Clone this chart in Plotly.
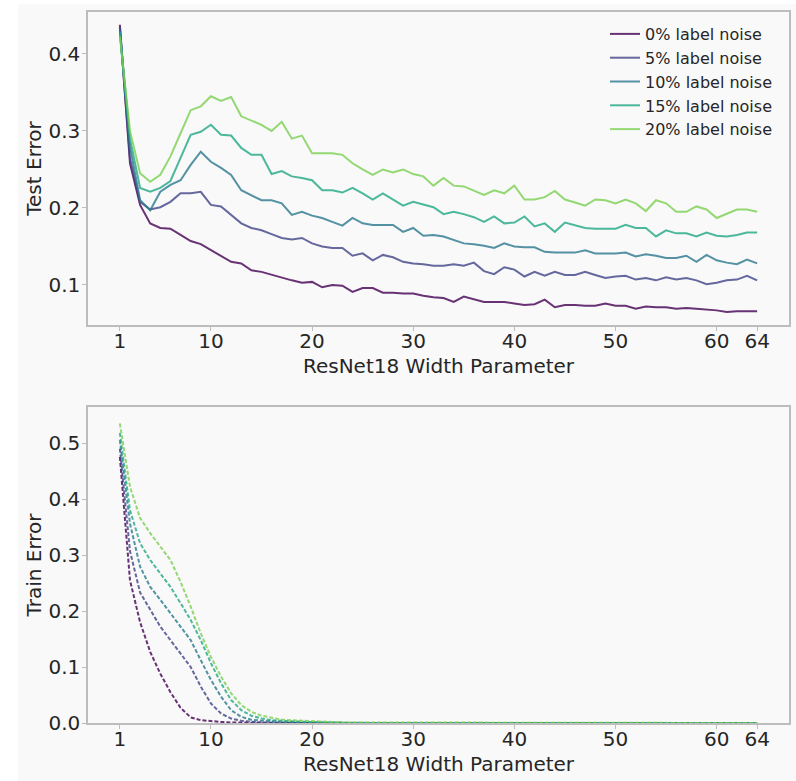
import plotly.graph_objects as go

widths = list(range(1, 65))
x_tick_vals = [1, 10, 20, 30, 40, 50, 60, 64]
test_y_ticks = [0.1, 0.2, 0.3, 0.4]
train_y_ticks = [0.0, 0.1, 0.2, 0.3, 0.4, 0.5]
noise_labels = ["0% label noise", "5% label noise", "10% label noise", "15% label noise", "20% label noise"]

test_0 = [0.438, 0.258, 0.204, 0.180, 0.174, 0.173, 0.165, 0.157, 0.153, 0.145,
          0.138, 0.130, 0.128, 0.119, 0.117, 0.113, 0.110, 0.106, 0.103, 0.104,
          0.097, 0.100, 0.099, 0.091, 0.096, 0.096, 0.090, 0.090, 0.089, 0.089,
          0.086, 0.084, 0.083, 0.078, 0.085, 0.081, 0.078, 0.078, 0.078, 0.076,
          0.074, 0.075, 0.081, 0.071, 0.074, 0.074, 0.073, 0.073, 0.076, 0.073,
          0.073, 0.069, 0.072, 0.071, 0.071, 0.069, 0.070, 0.069, 0.068, 0.067,
          0.065, 0.066, 0.066, 0.066]
test_5 = [0.435, 0.265, 0.208, 0.198, 0.201, 0.208, 0.219, 0.219, 0.221, 0.204,
          0.202, 0.191, 0.180, 0.174, 0.171, 0.166, 0.161, 0.159, 0.161, 0.154,
          0.150, 0.148, 0.148, 0.138, 0.141, 0.132, 0.139, 0.136, 0.130, 0.128,
          0.127, 0.125, 0.125, 0.127, 0.125, 0.129, 0.118, 0.114, 0.123, 0.120,
          0.111, 0.117, 0.112, 0.117, 0.113, 0.113, 0.117, 0.113, 0.109, 0.111,
          0.112, 0.107, 0.109, 0.106, 0.110, 0.107, 0.109, 0.106, 0.101, 0.103,
          0.106, 0.107, 0.112, 0.106]
test_10 = [0.430, 0.280, 0.210, 0.197, 0.221, 0.230, 0.236, 0.256, 0.273, 0.260,
           0.252, 0.243, 0.223, 0.217, 0.210, 0.210, 0.206, 0.191, 0.195, 0.190,
           0.187, 0.182, 0.177, 0.187, 0.180, 0.178, 0.178, 0.178, 0.169, 0.174,
           0.164, 0.165, 0.163, 0.159, 0.154, 0.153, 0.151, 0.148, 0.154, 0.150,
           0.149, 0.149, 0.143, 0.142, 0.142, 0.142, 0.145, 0.141, 0.141, 0.141,
           0.142, 0.137, 0.140, 0.138, 0.135, 0.135, 0.138, 0.130, 0.139, 0.132,
           0.129, 0.127, 0.133, 0.128]
test_15 = [0.428, 0.290, 0.226, 0.221, 0.226, 0.235, 0.265, 0.295, 0.299, 0.308,
           0.295, 0.294, 0.278, 0.269, 0.269, 0.244, 0.248, 0.241, 0.239, 0.236,
           0.223, 0.223, 0.220, 0.226, 0.219, 0.211, 0.219, 0.211, 0.203, 0.208,
           0.204, 0.201, 0.192, 0.195, 0.192, 0.188, 0.182, 0.189, 0.180, 0.181,
           0.189, 0.176, 0.180, 0.169, 0.181, 0.177, 0.174, 0.173, 0.173, 0.173,
           0.178, 0.174, 0.174, 0.163, 0.171, 0.167, 0.167, 0.163, 0.168, 0.164,
           0.163, 0.165, 0.168, 0.168]
test_20 = [0.423, 0.300, 0.245, 0.234, 0.243, 0.267, 0.297, 0.327, 0.332, 0.345,
           0.339, 0.344, 0.319, 0.314, 0.308, 0.300, 0.312, 0.290, 0.294, 0.271,
           0.271, 0.271, 0.269, 0.258, 0.250, 0.243, 0.250, 0.246, 0.250, 0.244,
           0.241, 0.229, 0.239, 0.229, 0.228, 0.223, 0.217, 0.223, 0.219, 0.229,
           0.211, 0.211, 0.214, 0.222, 0.211, 0.207, 0.203, 0.211, 0.210, 0.206,
           0.211, 0.206, 0.196, 0.210, 0.206, 0.195, 0.195, 0.202, 0.198, 0.187,
           0.192, 0.198, 0.198, 0.195]

train_0 = [0.475, 0.255, 0.180, 0.127, 0.088, 0.055, 0.027, 0.010, 0.005, 0.003,
           0.002, 0.001, 0.0005, 0.0, 0.0, 0.0, 0.0, 0.0, 0.0, 0.0,
           0.0, 0.0, 0.0, 0.0, 0.0, 0.0, 0.0, 0.0, 0.0, 0.0,
           0.0, 0.0, 0.0, 0.0, 0.0, 0.0, 0.0, 0.0, 0.0, 0.0,
           0.0, 0.0, 0.0, 0.0, 0.0, 0.0, 0.0, 0.0, 0.0, 0.0,
           0.0, 0.0, 0.0, 0.0, 0.0, 0.0, 0.0, 0.0, 0.0, 0.0,
           0.0, 0.0, 0.0, 0.0]
train_5 = [0.490, 0.307, 0.233, 0.202, 0.172, 0.148, 0.124, 0.100, 0.065, 0.035,
           0.017, 0.008, 0.004, 0.002, 0.001, 0.001, 0.0005, 0.0, 0.0, 0.0,
           0.0, 0.0, 0.0, 0.0, 0.0, 0.0, 0.0, 0.0, 0.0, 0.0,
           0.0, 0.0, 0.0, 0.0, 0.0, 0.0, 0.0, 0.0, 0.0, 0.0,
           0.0, 0.0, 0.0, 0.0, 0.0, 0.0, 0.0, 0.0, 0.0, 0.0,
           0.0, 0.0, 0.0, 0.0, 0.0, 0.0, 0.0, 0.0, 0.0, 0.0,
           0.0, 0.0, 0.0, 0.0]
train_10 = [0.505, 0.356, 0.279, 0.243, 0.220, 0.196, 0.172, 0.148, 0.112, 0.077,
            0.047, 0.023, 0.011, 0.006, 0.004, 0.003, 0.002, 0.0015, 0.001, 0.001,
            0.0005, 0.0005, 0.0, 0.0, 0.0, 0.0, 0.0, 0.0, 0.0, 0.0,
            0.0, 0.0, 0.0, 0.0, 0.0, 0.0, 0.0, 0.0, 0.0, 0.0,
            0.0, 0.0, 0.0, 0.0, 0.0, 0.0, 0.0, 0.0, 0.0, 0.0,
            0.0, 0.0, 0.0, 0.0, 0.0, 0.0, 0.0, 0.0, 0.0, 0.0,
            0.0, 0.0, 0.0, 0.0]
train_15 = [0.518, 0.380, 0.321, 0.291, 0.267, 0.243, 0.214, 0.184, 0.148, 0.107,
            0.071, 0.041, 0.023, 0.013, 0.008, 0.005, 0.004, 0.003, 0.002, 0.002,
            0.001, 0.001, 0.0005, 0.0005, 0.0, 0.0, 0.0, 0.0, 0.0, 0.0,
            0.0, 0.0, 0.0, 0.0, 0.0, 0.0, 0.0, 0.0, 0.0, 0.0,
            0.0, 0.0, 0.0, 0.0, 0.0, 0.0, 0.0, 0.0, 0.0, 0.0,
            0.0, 0.0, 0.0, 0.0, 0.0, 0.0, 0.0, 0.0, 0.0, 0.0,
            0.0, 0.0, 0.0, 0.0]
train_20 = [0.535, 0.422, 0.366, 0.339, 0.315, 0.291, 0.252, 0.208, 0.160, 0.118,
            0.083, 0.053, 0.032, 0.020, 0.013, 0.009, 0.006, 0.005, 0.004, 0.003,
            0.002, 0.002, 0.001, 0.001, 0.001, 0.0005, 0.0005, 0.0, 0.0, 0.0,
            0.0, 0.0, 0.0, 0.0, 0.0, 0.0, 0.0, 0.0, 0.0, 0.0,
            0.0, 0.0, 0.0, 0.0, 0.0, 0.0, 0.0, 0.0, 0.0, 0.0,
            0.0, 0.0, 0.0, 0.0, 0.0, 0.0, 0.0, 0.0, 0.0, 0.0,
            0.0, 0.0, 0.0, 0.0]

colors = ["#440154", "#414487", "#2a788e", "#22a884", "#7ad151"]
test_series = [test_0, test_5, test_10, test_15, test_20]
train_series = [train_0, train_5, train_10, train_15, train_20]

W, H = 796, 781
FONT = "DejaVu Sans"
TXT = "#262626"
SPINE = "#bdbdbd"

fig = go.Figure()
for name, ys, c in zip(noise_labels, test_series, colors):
    fig.add_trace(go.Scatter(x=widths, y=ys, mode="lines", name=name,
                             line=dict(color=c, width=2), opacity=0.8,
                             xaxis="x", yaxis="y"))
for name, ys, c in zip(noise_labels, train_series, colors):
    fig.add_trace(go.Scatter(x=widths, y=ys, mode="lines", name=name,
                             line=dict(color=c, width=2, dash="4px,2px"), opacity=0.8,
                             showlegend=False, xaxis="x2", yaxis="y2"))

def px_x(a, b):
    return [a / W, b / W]

def px_y(top, bottom):
    return [(H - bottom) / H, (H - top) / H]

common_x = dict(tickvals=x_tick_vals, ticktext=[str(v) for v in x_tick_vals],
                range=[-2.15, 67.15], ticks="outside", ticklen=4, tickwidth=1,
                tickcolor=SPINE, showline=True, mirror=True, linecolor=SPINE,
                linewidth=1.5, showgrid=False, zeroline=False,
                ticklabelstandoff=-7,
                tickfont=dict(family=FONT, size=20, color=TXT),
                title=dict(text="ResNet18 Width Parameter",
                           font=dict(family=FONT, size=20, color=TXT), standoff=7),
                automargin=False)
common_y = dict(ticks="outside", ticklen=4, tickwidth=1, tickcolor=SPINE,
                showline=True, mirror=True, linecolor=SPINE, linewidth=1.5,
                showgrid=False, zeroline=False, ticklabelstandoff=-2,
                tickfont=dict(family=FONT, size=20, color=TXT), automargin=False)

fig.update_layout(
    width=W, height=H,
    margin=dict(l=0, r=0, t=0, b=0),
    paper_bgcolor="white",
    plot_bgcolor="rgba(0,0,0,0)",
    shapes=[dict(type="rect", xref="paper", yref="paper",
                 x0=18 / W, x1=1, y0=0, y1=1 - 4 / H,
                 fillcolor="#f9f9f9", line=dict(width=0), layer="below")],
    xaxis=dict(domain=px_x(88, 789), anchor="y", **common_x),
    yaxis=dict(domain=px_y(12, 325), anchor="x", range=[0.048, 0.4545],
               tickvals=test_y_ticks, ticktext=[f"{v:.1f}" for v in test_y_ticks],
               title=dict(text="Test Error", font=dict(family=FONT, size=20, color=TXT), standoff=1),
               **common_y),
    xaxis2=dict(domain=px_x(88, 789), anchor="y2", **common_x),
    yaxis2=dict(domain=px_y(407, 723), anchor="x2", range=[0, 0.5643],
                tickvals=train_y_ticks, ticktext=[f"{v:.1f}" for v in train_y_ticks],
                title=dict(text="Train Error", font=dict(family=FONT, size=20, color=TXT), standoff=1),
                **common_y),
    legend=dict(x=605 / W, y=1 - 17 / H, xanchor="left", yanchor="top",
                bgcolor="rgba(0,0,0,0)", borderwidth=0,
                font=dict(family=FONT, size=16, color=TXT)),
    showlegend=True,
)

fig.write_html("out.html", config={"displayModeBar": False},
               post_script="document.body.style.margin='0';")
